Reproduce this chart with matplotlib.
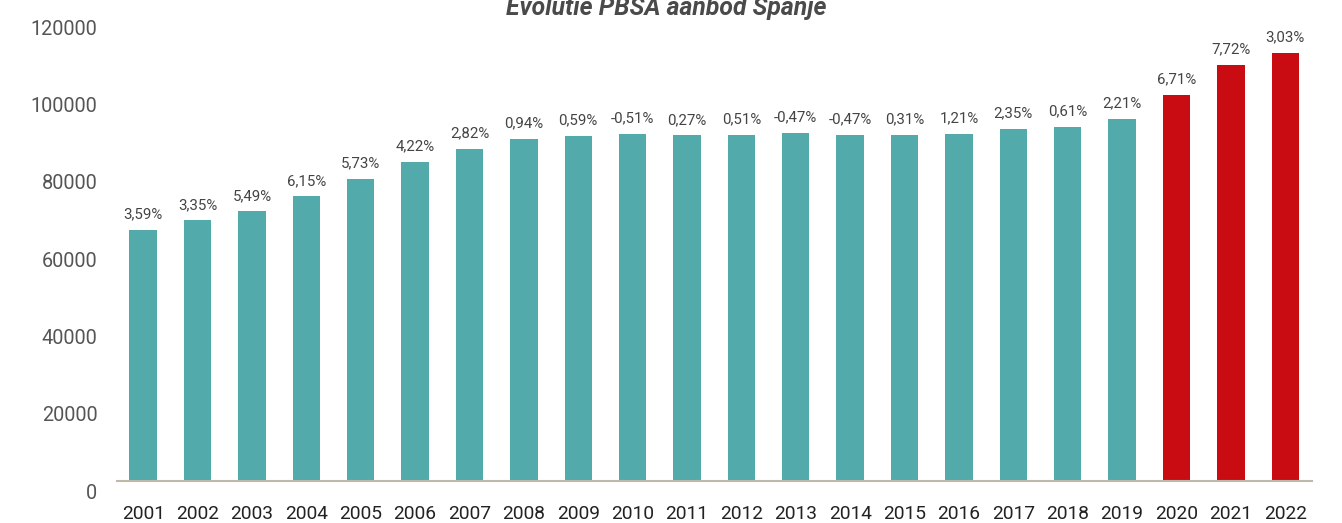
import matplotlib
matplotlib.use("Agg")
import matplotlib.pyplot as plt
import matplotlib.transforms as mtransforms

plt.rcParams["font.family"] = ["Roboto", "DejaVu Sans"]

years = [str(y) for y in range(2001, 2023)]
beds = [65000, 67400, 69700, 73600, 78100, 82600, 85900, 88500, 89300, 89800,
        89400, 89600, 90100, 89600, 89600, 89800, 91100, 91600, 93700, 99900,
        107600, 110700]
growth = ["3,59%", "3,35%", "5,49%", "6,15%", "5,73%", "4,22%", "2,82%", "0,94%",
          "0,59%", "-0,51%", "0,27%", "0,51%", "-0,47%", "-0,47%", "0,31%", "1,21%",
          "2,35%", "0,61%", "2,21%", "6,71%", "7,72%", "3,03%"]
forecast_from = "2020"

teal = "#52aaaa"
red = "#c90c12"

fig = plt.figure(figsize=(13.42, 5.23), dpi=100)
ax = fig.add_axes([0.087, 0.0803, 0.891, 464 / 523])

colors = [red if y >= forecast_from else teal for y in years]
x = range(len(years))
bars = ax.bar(x, beds, width=0.503, color=colors, zorder=2)

for rect, lab in zip(bars, growth):
    ax.annotate(lab, (rect.get_x() + rect.get_width() / 2, rect.get_height()),
                xytext=(0, 6), textcoords="offset points",
                ha="center", va="bottom", fontsize=10.8, color="#444444")

ax.set_xlim(-0.485, len(years) - 0.5)
ax.set_ylim(0, 120000)
ax.set_yticks(range(0, 120001, 20000))
ax.set_xticks(list(x))
ax.set_xticklabels(years)

for side in ["top", "right", "left"]:
    ax.spines[side].set_visible(False)
ax.spines["bottom"].set_color("#bdbaab")
ax.spines["bottom"].set_linewidth(1.5)

ax.tick_params(axis="y", length=0, pad=14, labelsize=14.3, labelcolor="#555555")
ax.tick_params(axis="x", length=0, pad=17, labelsize=13.8, labelcolor="#222222")

# y labels sit a little below their value
shift = mtransforms.ScaledTranslation(0, -10 / 100, fig.dpi_scale_trans)
for lbl in ax.get_yticklabels():
    lbl.set_transform(lbl.get_transform() + shift)

fig.text(0.4965, 1 - 15 / 523, "Evolutie PBSA aanbod Spanje", ha="center",
         va="baseline", fontsize=17.8, fontweight="bold", fontstyle="italic",
         color="#4a4a4a")

fig.savefig("out.png", dpi=100)
